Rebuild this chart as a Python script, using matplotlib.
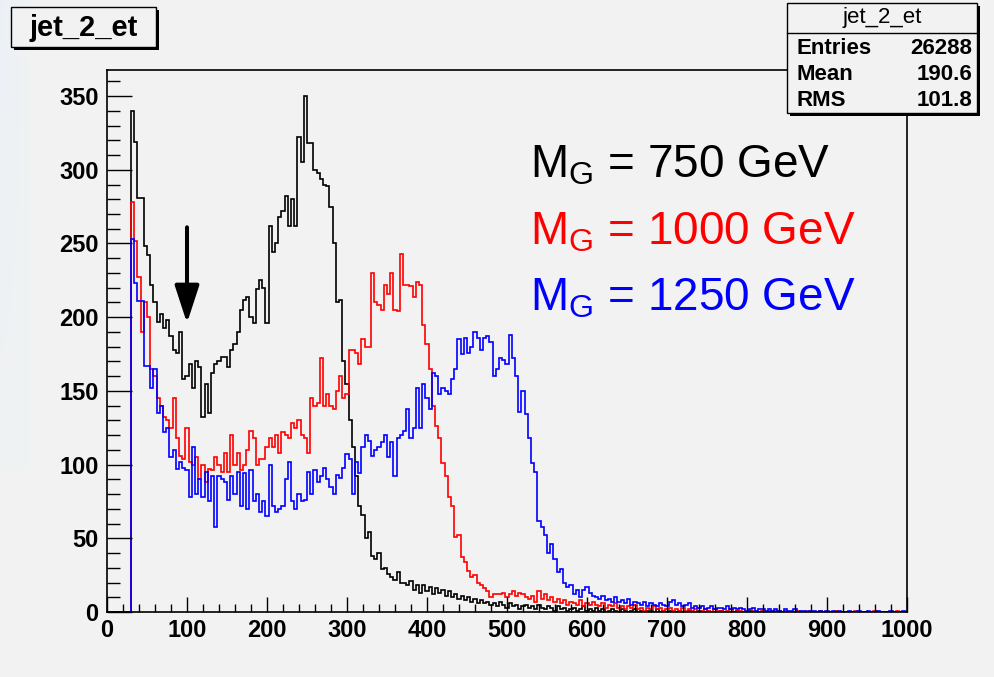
import matplotlib.pyplot as plt
from matplotlib.patches import Rectangle
from matplotlib.lines import Line2D
from matplotlib.ticker import MultipleLocator
import numpy as np

plt.rcParams['font.family'] = ['Liberation Sans', 'DejaVu Sans']
plt.rcParams['mathtext.fontset'] = 'custom'
plt.rcParams['mathtext.rm'] = 'Liberation Sans'
plt.rcParams['mathtext.it'] = 'Liberation Sans:italic'
plt.rcParams['mathtext.bf'] = 'Liberation Sans:bold'

# jet_2_et, 4 GeV bins starting at 30 GeV (nothing below 30)
bin_start = 30
bin_width = 4

et_750 = [
    340, 319, 281, 281, 248, 242, 222, 210, 197, 202,
    193, 198, 187, 178, 176, 190, 158, 160, 168, 152,
    170, 166, 132, 155, 135, 162, 168, 170, 173, 173,
    166, 178, 182, 190, 205, 212, 214, 200, 196, 219,
    225, 220, 196, 262, 244, 250, 268, 272, 282, 262,
    280, 262, 322, 305, 350, 318, 318, 300, 298, 294,
    290, 289, 275, 250, 210, 212, 170, 155, 130, 112,
    92, 72, 66, 50, 54, 38, 36, 40, 29, 30,
    26, 24, 22, 27, 20, 20, 18, 21, 15, 18,
    13, 18, 14, 17, 12, 16, 13, 15, 11, 14,
    10, 12, 9, 11, 8, 10, 7, 9, 6, 8,
    6, 7, 5, 6, 4, 7, 5, 3, 6, 4,
    5, 2, 4, 5, 3, 4, 2, 5, 3, 2,
    4, 3, 1, 4, 2, 3, 1, 2, 3, 1,
    2, 4, 1, 2, 1, 3, 1, 2, 0, 1,
    2, 1, 0, 2, 1, 0, 1, 2, 0, 1,
    0, 1, 1, 0, 2, 0, 1, 0, 1, 0,
    0, 1, 0, 0, 1, 0, 0, 1, 0, 0,
    1, 0, 0, 0, 1, 0, 0, 0, 0, 1,
    0, 0, 0, 1, 0, 0, 0, 0, 0, 0,
    0, 0, 1, 0, 0, 0, 0, 0, 0, 0,
    0, 0, 0, 0, 0, 1, 0, 0, 0, 0,
    0, 0, 0, 0, 0, 0, 0, 0, 0, 0,
    0, 0, 0, 0, 0, 0, 0, 0, 0, 0,
    0, 0,
]

et_1000 = [
    278, 252, 227, 190, 210, 200, 165, 160, 145, 140,
    132, 130, 125, 145, 118, 106, 104, 125, 102, 100,
    105, 90, 100, 88, 97, 96, 105, 100, 95, 108,
    95, 120, 100, 108, 96, 100, 110, 123, 118, 100,
    104, 104, 112, 118, 112, 120, 108, 122, 120, 118,
    128, 125, 130, 120, 118, 108, 145, 140, 142, 172,
    140, 148, 140, 138, 150, 160, 145, 148, 178, 178,
    176, 168, 185, 180, 180, 230, 210, 208, 205, 222,
    216, 230, 205, 204, 243, 222, 222, 221, 214, 224,
    222, 195, 182, 165, 140, 126, 118, 101, 92, 78,
    72, 51, 52, 37, 34, 28, 24, 25, 20, 18,
    16, 14, 10, 12, 12, 12, 13, 10, 12, 14,
    11, 13, 12, 10, 9, 11, 7, 14, 9, 12,
    8, 10, 7, 9, 6, 8, 5, 7, 6, 5,
    8, 4, 6, 5, 7, 5, 4, 6, 3, 5,
    4, 6, 3, 4, 2, 4, 3, 5, 2, 3,
    1, 3, 2, 4, 2, 3, 1, 2, 3, 1,
    2, 1, 3, 1, 2, 1, 2, 0, 1, 2,
    1, 0, 2, 1, 1, 0, 1, 2, 0, 1,
    1, 0, 1, 0, 1, 0, 0, 1, 0, 1,
    0, 1, 0, 0, 1, 0, 0, 0, 1, 0,
    0, 1, 0, 0, 0, 1, 0, 0, 0, 0,
    1, 0, 0, 0, 0, 0, 1, 0, 0, 0,
    0, 0, 1, 0, 0, 0, 0, 0, 0, 1,
    0, 0,
]

et_1250 = [
    253, 223, 211, 211, 167, 167, 152, 165, 135, 140,
    122, 125, 105, 110, 97, 102, 98, 96, 78, 112,
    80, 90, 78, 95, 75, 92, 58, 92, 90, 88,
    76, 92, 80, 95, 72, 94, 70, 96, 75, 80,
    68, 75, 65, 100, 72, 68, 70, 72, 90, 102,
    75, 70, 80, 75, 76, 95, 80, 96, 88, 92,
    98, 90, 85, 80, 93, 91, 98, 107, 104, 80,
    102, 94, 112, 120, 116, 106, 110, 112, 115, 120,
    105, 115, 92, 118, 120, 123, 138, 118, 125, 152,
    125, 155, 145, 138, 162, 160, 148, 152, 150, 148,
    158, 165, 185, 175, 186, 176, 180, 190, 186, 178,
    186, 187, 183, 160, 165, 172, 171, 168, 188, 172,
    160, 136, 150, 134, 118, 101, 95, 62, 58, 52,
    40, 46, 36, 27, 29, 20, 17, 18, 12, 15,
    10, 15, 17, 13, 11, 10, 9, 11, 8, 9,
    7, 10, 7, 8, 6, 9, 5, 7, 6, 5,
    7, 4, 6, 5, 4, 6, 5, 4, 7, 8,
    5, 6, 4, 5, 6, 3, 4, 3, 4, 2,
    3, 4, 2, 3, 3, 2, 4, 2, 3, 2,
    3, 2, 1, 2, 3, 1, 2, 2, 1, 2,
    1, 2, 1, 0, 2, 1, 1, 2, 0, 1,
    1, 0, 1, 1, 0, 1, 0, 1, 0, 1,
    0, 1, 0, 0, 1, 0, 0, 1, 0, 0,
    1, 0, 0, 1, 0, 0, 0, 1, 0, 0,
    0, 1,
]

masses = ['750', '1000', '1250']
colors = ['black', 'red', 'blue']

stat_names = ['Entries', 'Mean', 'RMS']
stat_values = ['26288', '190.6', '101.8']

W, H = 994, 677
bg = '#f2f2f2'
fig = plt.figure(figsize=(W / 100, H / 100), dpi=100, facecolor=bg)


def fx(px):
    return px / W


def fy(py):
    return 1 - py / H


# faint slide background showing at the left edge
edge = fig.add_axes([0, fy(470), fx(30), fy(0) - fy(470)], zorder=-1)
gx = np.linspace(0, 1, 30)[None, :]
gy = np.linspace(0, 1, 470)[:, None]
shade = 1 - (1 - gx) * (1 - gy) * 0.6
rgb = np.dstack([0.94 - 0.02 * (1 - shade), 0.95 - 0.01 * (1 - shade),
                 0.95 + 0.03 * (1 - shade)])
edge.imshow(np.clip(rgb, 0, 1), aspect='auto')
edge.set_axis_off()

ax = fig.add_axes([fx(107), fy(612), fx(907) - fx(107), fy(70) - fy(612)])
ax.set_facecolor(bg)

n = len(et_750)
edges = np.concatenate([[0], bin_start + bin_width * np.arange(n + 1), [1000]])
for vals, c in zip([et_750, et_1000, et_1250], colors):
    ax.stairs([0] + vals + [0], edges, color=c, lw=1.2, baseline=0)

ax.set_xlim(0, 1000)
ax.set_ylim(0, 367.7)
ax.xaxis.set_major_locator(MultipleLocator(100))
ax.xaxis.set_minor_locator(MultipleLocator(20))
ax.yaxis.set_major_locator(MultipleLocator(50))
ax.yaxis.set_minor_locator(MultipleLocator(10))
ax.tick_params(axis='x', which='major', direction='in', length=10.8, width=1,
               labelsize=17, pad=5)
ax.tick_params(axis='x', which='minor', direction='in', length=5.8, width=1)
ax.tick_params(axis='y', which='major', direction='in', length=18, width=1,
               labelsize=17, pad=6)
ax.tick_params(axis='y', which='minor', direction='in', length=9, width=1)
for lab in ax.get_xticklabels() + ax.get_yticklabels():
    lab.set_fontweight('bold')
for sp in ax.spines.values():
    sp.set_linewidth(1.2)

# arrow at 100 GeV
ax.annotate('', xy=(100, 196), xytext=(100, 261),
            arrowprops=dict(arrowstyle='-|>,head_length=2.3,head_width=0.75',
                            lw=2.9, color='black', shrinkA=0, shrinkB=0,
                            mutation_scale=10))

# mass labels
for i, (m, c) in enumerate(zip(masses, colors)):
    fig.text(fx(530), fy(177 + 67 * i), r'M$_{\mathrm{G}}$ = ' + m + ' GeV',
             fontsize=33, color=c, ha='left', va='baseline')

# title box
fig.add_artist(Rectangle((fx(14), fy(50)), fx(159) - fx(14), fy(10) - fy(50),
                         transform=fig.transFigure, facecolor='black', lw=0))
fig.add_artist(Rectangle((fx(11), fy(47)), fx(156) - fx(11), fy(7) - fy(47),
                         transform=fig.transFigure, facecolor=bg,
                         edgecolor='black', lw=1))
fig.text(fx(84), fy(28), 'jet_2_et', fontsize=21, fontweight='bold',
         ha='center', va='center')

# stats box
fig.add_artist(Rectangle((fx(790), fy(116)), fx(980) - fx(790), fy(6) - fy(116),
                         transform=fig.transFigure, facecolor='black', lw=0))
fig.add_artist(Rectangle((fx(787), fy(113)), fx(977) - fx(787), fy(3) - fy(113),
                         transform=fig.transFigure, facecolor=bg,
                         edgecolor='black', lw=1))
fig.add_artist(Line2D([fx(787), fx(977)], [fy(33), fy(33)],
                      transform=fig.transFigure, color='black', lw=1))
fig.text(fx(882), fy(18), 'jet_2_et', fontsize=16, ha='center', va='center')
for i, (name, val) in enumerate(zip(stat_names, stat_values)):
    y = fy(48 + 26.5 * i)
    fig.text(fx(797), y, name, fontsize=16, fontweight='bold',
             ha='left', va='center')
    fig.text(fx(972), y, val, fontsize=16, fontweight='bold',
             ha='right', va='center')

fig.savefig('out.png', dpi=100, facecolor=bg)
